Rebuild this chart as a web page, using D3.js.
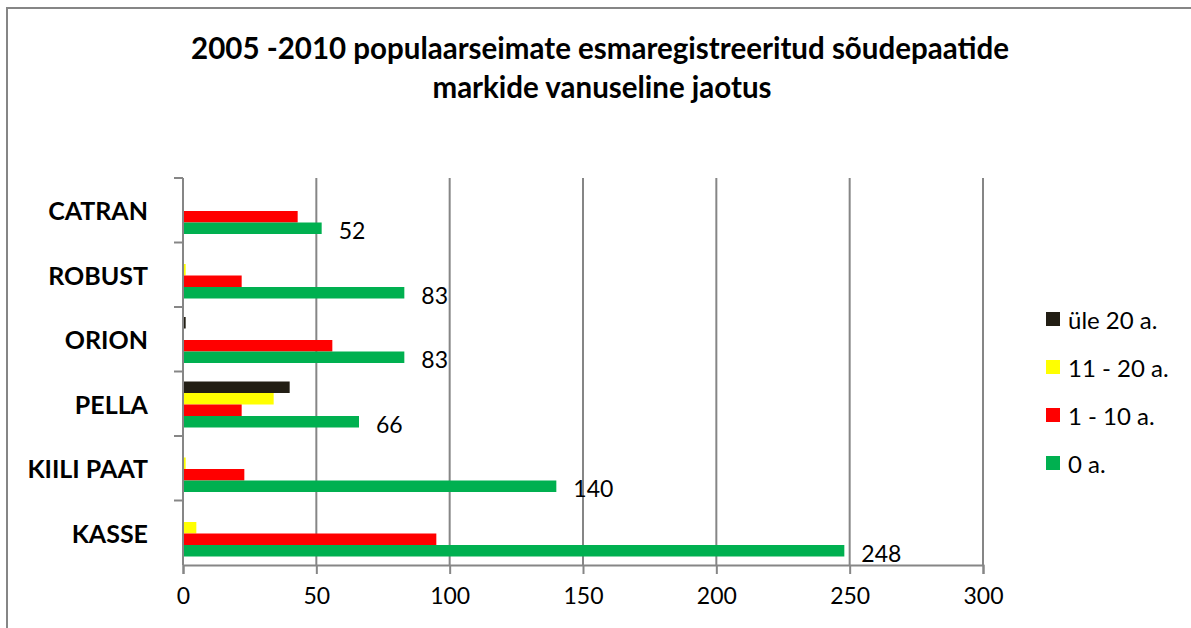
<!DOCTYPE html>
<html>
<head>
<meta charset="utf-8">
<script src="https://cdn.jsdelivr.net/npm/d3@7"></script>
<style>
  body { margin: 0; background: #fff; }
  text { font-family: Lato, "Open Sans", sans-serif; fill: #000; }
</style>
</head>
<body>
<script>
var width = 1191;
var height = 628;

var margin = {top: 178, left: 183, right: 208, bottom: 63};

// data
var categories = ["CATRAN", "ROBUST", "ORION", "PELLA", "KIILI PAAT", "KASSE"];
var series = ["üle 20 a.", "11 - 20 a.", "1 - 10 a.", "0 a."];
var colors = ["#221e14", "#ffff00", "#ff0000", "#00b050"];
var over20 = [0, 0, 1, 40, 0, 0];
var age11to20 = [0, 1, 0, 34, 1, 5];
var age1to10 = [43, 22, 56, 22, 23, 95];
var age0 = [52, 83, 83, 66, 140, 248];
var xTicks = [0, 50, 100, 150, 200, 250, 300];

var values = [over20, age11to20, age1to10, age0];

var svg = d3.select("body")
    .append("svg")
    .attr("width", width)
    .attr("height", height);

// chart frame
svg.append("rect")
  .attr("x", 7)
  .attr("y", 8)
  .attr("width", 1200)
  .attr("height", 700)
  .attr("fill", "#fff")
  .attr("stroke", "#868686")
  .attr("stroke-width", 2);

// title
var title = svg.append("text")
  .attr("text-anchor", "middle")
  .attr("font-weight", "bold")
  .attr("font-size", 29.5);
title.append("tspan").attr("x", 600).attr("y", 59)
  .text("2005 -2010 populaarseimate esmaregistreeritud sõudepaatide");
title.append("tspan").attr("x", 602).attr("y", 98)
  .text("markide vanuseline jaotus");

var xScale = d3.scaleLinear()
  .domain([0, 300])
  .range([margin.left, width - margin.right]);

var yScale = d3.scaleBand()
  .domain(categories)
  .range([margin.top, height - margin.bottom]);

var inner = d3.scaleBand()
  .domain(series)
  .range([10, 56]);

// vertical gridlines
svg.append("g")
  .selectAll("line")
  .data(xTicks.slice(1))
  .enter()
  .append("line")
    .attr("x1", function(d) { return xScale(d); })
    .attr("x2", function(d) { return xScale(d); })
    .attr("y1", margin.top)
    .attr("y2", height - margin.bottom)
    .attr("stroke", "#868686")
    .attr("stroke-width", 2);

// bars
var rows = [];
categories.forEach(function(c, i) {
  series.forEach(function(s, j) {
    rows.push({cat: c, ser: s, v: values[j][i], color: colors[j]});
  });
});

svg.append("g")
  .selectAll("rect")
  .data(rows)
  .enter()
  .append("rect")
    .attr("x", xScale(0))
    .attr("y", function(d) { return yScale(d.cat) + inner(d.ser); })
    .attr("width", function(d) { return xScale(d.v) - xScale(0); })
    .attr("height", inner.bandwidth())
    .attr("fill", function(d) { return d.color; });

// data labels for 0 a.
svg.append("g")
  .selectAll("text")
  .data(categories)
  .enter()
  .append("text")
    .attr("x", function(d, i) { return xScale(age0[i]) + 17; })
    .attr("y", function(d) { return yScale(d) + inner("0 a.") + inner.bandwidth() / 2 + 2; })
    .attr("dominant-baseline", "central")
    .attr("font-size", 23)
    .text(function(d, i) { return age0[i]; });

// x axis
var xAxis = svg.append("g")
  .attr("transform", "translate(0," + (height - margin.bottom) + ")")
  .call(d3.axisBottom(xScale).tickValues(xTicks).tickSize(9).tickPadding(14));
xAxis.select(".domain").attr("stroke", "#868686").attr("stroke-width", 2);
xAxis.selectAll(".tick line").attr("stroke", "#868686").attr("stroke-width", 2);
xAxis.selectAll("text").attr("font-size", 23).attr("font-family", "Lato, sans-serif").attr("fill", "#000");

// y axis (ticks between categories)
var yAxis = svg.append("g")
  .attr("transform", "translate(" + margin.left + ",0)");
yAxis.append("line")
  .attr("y1", margin.top)
  .attr("y2", height - margin.bottom)
  .attr("stroke", "#868686")
  .attr("stroke-width", 2);
yAxis.selectAll(".sep")
  .data(categories)
  .enter()
  .append("line")
    .attr("x1", -9)
    .attr("x2", 0)
    .attr("y1", function(d) { return yScale(d); })
    .attr("y2", function(d) { return yScale(d); })
    .attr("stroke", "#868686")
    .attr("stroke-width", 2);
yAxis.selectAll("text")
  .data(categories)
  .enter()
  .append("text")
    .attr("x", -35)
    .attr("y", function(d) { return yScale(d) + yScale.bandwidth() / 2; })
    .attr("text-anchor", "end")
    .attr("dominant-baseline", "central")
    .attr("font-weight", "bold")
    .attr("font-size", 25)
    .text(function(d) { return d; });

// legend
var legend = svg.append("g")
  .selectAll("g")
  .data(series)
  .enter()
  .append("g")
    .attr("transform", function(d, i) { return "translate(1046," + (319 + i * 48) + ")"; });
legend.append("rect")
  .attr("y", -7)
  .attr("width", 14)
  .attr("height", 14)
  .attr("fill", function(d, i) { return colors[i]; });
legend.append("text")
  .attr("x", 22)
  .attr("dominant-baseline", "central")
  .attr("font-size", 24)
  .text(function(d) { return d; });
</script>
</body>
</html>
